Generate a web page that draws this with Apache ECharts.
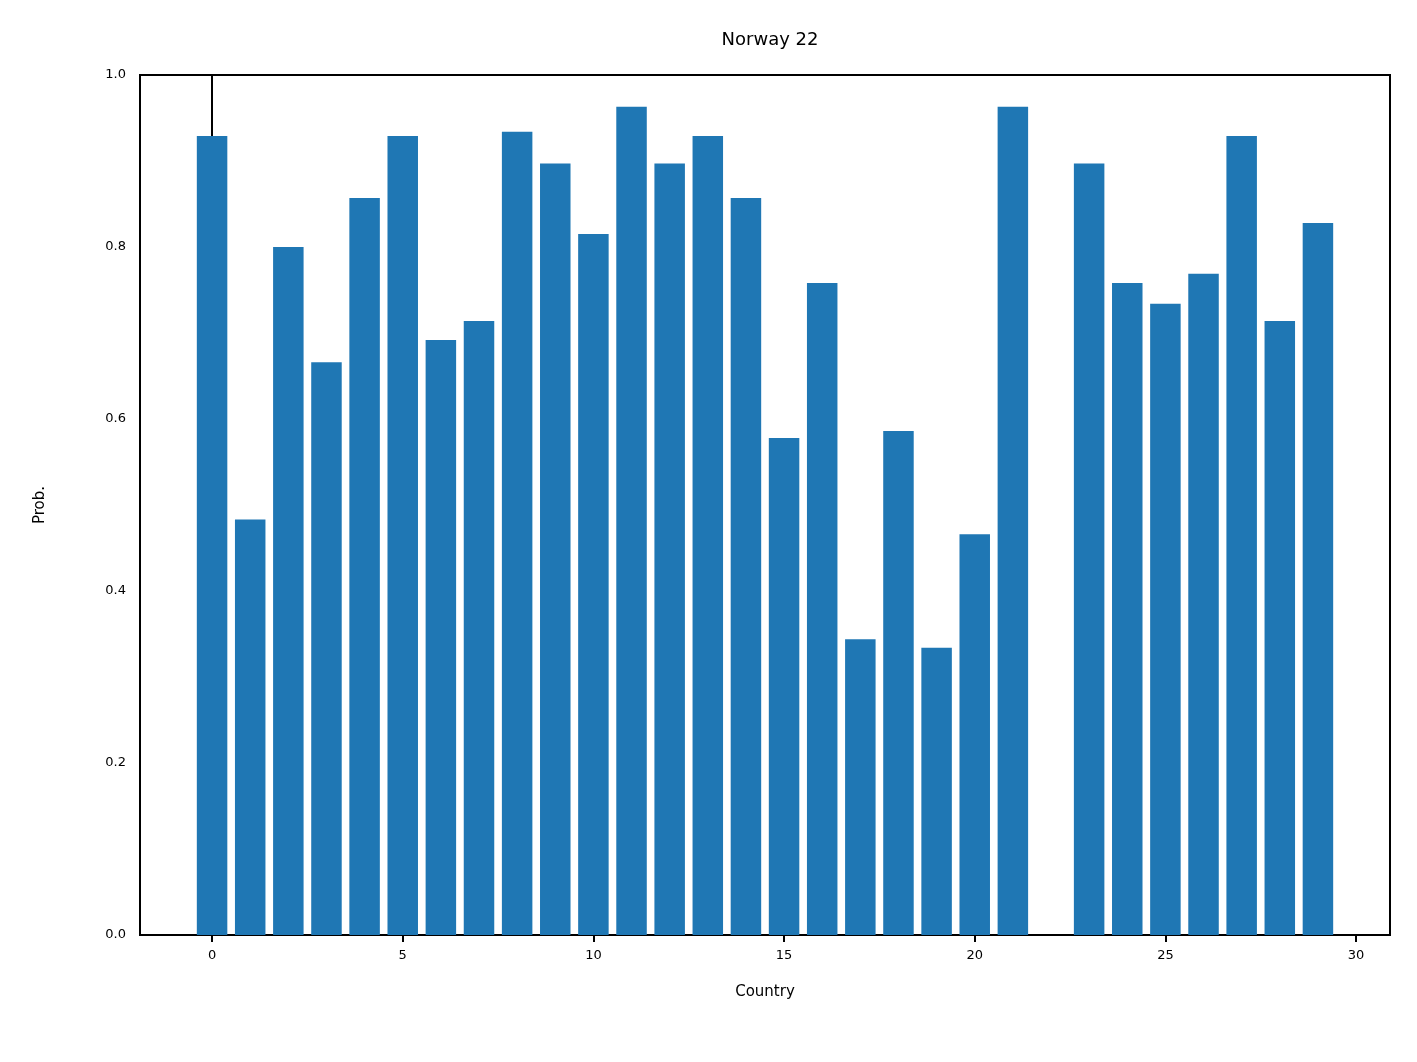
<!DOCTYPE html>
<html>
<head>
<meta charset="utf-8">
<script src="https://cdn.jsdelivr.net/npm/echarts@6/dist/echarts.min.js"></script>
<style>html,body{margin:0;padding:0;background:#fff}#chart{width:1417px;height:1062px}</style>
</head>
<body>
<div id="chart"></div>
<script>
var countries = [0,1,2,3,4,5,6,7,8,9,10,11,12,13,14,15,16,17,18,19,20,21,22,23,24,25,26,27,28,29];
var probs = [0.929,0.483,0.800,0.666,0.857,0.929,0.692,0.714,0.934,0.897,0.815,0.963,0.897,0.929,0.857,0.578,0.758,0.344,0.586,0.334,0.466,0.963,0,0.897,0.758,0.734,0.769,0.929,0.714,0.828];
var xTicks = [0,5,10,15,20,25,30];

var chart = echarts.init(document.getElementById('chart'));
var font = 'DejaVu Sans';
var axisLine = {show:true, lineStyle:{color:'#000', width:2}};
chart.setOption({
	animation: false,
	title: {text:'Norway 22', left:765, top:26, textAlign:'center',
		textStyle:{fontFamily:font, fontSize:18, fontWeight:'normal', color:'#000'}},
	grid: {left:140, right:27, top:75, bottom:127, show:true, borderColor:'#000', borderWidth:2},
	xAxis: {
		type:'value', min:-1.89, max:30.89,
		name:'Country', nameLocation:'middle', nameGap:50,
		nameTextStyle:{fontFamily:font, fontSize:15, color:'#000'},
		axisLine: axisLine,
		axisTick:{show:true, length:7, lineStyle:{color:'#000', width:2}, customValues:xTicks},
		axisLabel:{fontFamily:font, fontSize:13, color:'#000', margin:14, customValues:xTicks},
		splitLine:{show:false}
	},
	yAxis: {
		type:'value', min:0, max:1, interval:0.2,
		name:'Prob.', nameLocation:'middle', nameGap:92,
		nameTextStyle:{fontFamily:font, fontSize:15, color:'#000'},
		axisLine: axisLine,
		axisTick:{show:true, length:7, lineStyle:{color:'#000', width:2}},
		axisLabel:{fontFamily:font, fontSize:13, color:'#000', margin:14,
			formatter:function(v){return v.toFixed(1);}},
		splitLine:{show:false}
	},
	series: [{
		type:'bar',
		barWidth:30.5,
		itemStyle:{color:'#1f77b4'},
		data: countries.map(function(c,i){return [c, probs[i]];})
	}]
});
</script>
</body>
</html>
